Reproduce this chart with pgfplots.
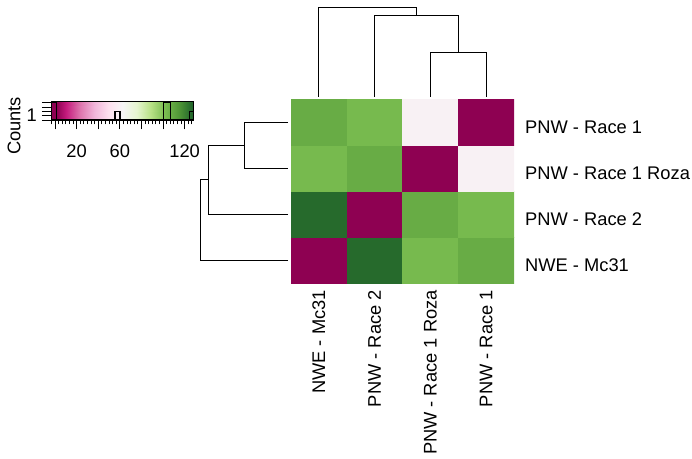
\documentclass[border=0pt]{standalone}
\usepackage{pgfplots}
\pgfplotsset{compat=1.18}
\usepackage{fontspec}
\setmainfont{Liberation Sans}
\newcommand\lab{\fontsize{18.3pt}{22pt}\selectfont}
\pgfplotsset{
 colormap={piyg}{rgb255(0pt)=(142,1,82) rgb255(43pt)=(142,1,82) rgb255(131pt)=(197,27,125) rgb255(263pt)=(222,119,174) rgb255(394pt)=(241,182,218) rgb255(525pt)=(253,224,239) rgb255(657pt)=(246,246,246) rgb255(788pt)=(230,245,208) rgb255(919pt)=(184,225,134) rgb255(1050pt)=(122,188,80) rgb255(1182pt)=(80,150,55) rgb255(1313pt)=(30,98,42)}
}
\begin{document}
\begin{tikzpicture}
\path[use as bounding box] (0,0) rectangle (692pt,458pt);

% heatmap
\begin{axis}[at={(291pt,175pt)}, anchor=south west, width=223pt, height=184pt, scale only axis,
 xmin=-0.5, xmax=3.5, ymin=-0.5, ymax=3.5, enlargelimits=false,
 colormap name=piyg, point meta min=-3.3, point meta max=128,
 axis line style={draw=none}, major tick length=0pt, tick style={draw=none},
 xtick={0,1,2,3}, ytick={0,1,2,3},
 xticklabels={NWE - Mc31, PNW - Race 2, PNW - Race 1 Roza, PNW - Race 1},
 yticklabels={NWE - Mc31, PNW - Race 2, PNW - Race 1 Roza, PNW - Race 1},
 yticklabel pos=right,
 every tick label/.append style={font=\lab, inner sep=0pt},
 xticklabel style={rotate=90, anchor=east},
 xticklabel shift=7pt,
 yticklabel style={anchor=west, yshift=-5.5pt},
 yticklabel shift=11pt]
\addplot[matrix plot*, mesh/cols=4, point meta=explicit] table[meta=c] {
x y c
0 0 0
1 0 126
2 0 102.5
3 0 107.3
0 1 126
1 1 0
2 1 107.3
3 1 102.5
0 2 102.5
1 2 107.3
2 2 0
3 2 59.5
0 3 107.3
1 3 102.5
2 3 59.5
3 3 0
};
\end{axis}

% top dendrogram
\begin{axis}[at={(291pt,361pt)}, anchor=south west, width=223pt, height=97pt, scale only axis,
 xmin=-0.5, xmax=3.5, ymin=0, ymax=125.6, hide axis, clip=false]
\addplot[black, line width=1pt] coordinates {(2,0) (2,57) (3,57) (3,0)};
\addplot[black, line width=1pt] coordinates {(1,0) (1,105) (2.5,105) (2.5,57)};
\addplot[black, line width=1pt] coordinates {(0,0) (0,116.5) (1.75,116.5) (1.75,105)};
\end{axis}

% left dendrogram
\begin{axis}[at={(190pt,175pt)}, anchor=south west, width=98pt, height=184pt, scale only axis,
 xmin=0, xmax=129.8, x dir=reverse, ymin=-0.5, ymax=3.5, hide axis, clip=false]
\addplot[black, line width=1pt] coordinates {(0,3) (57,3) (57,2) (0,2)};
\addplot[black, line width=1pt] coordinates {(0,1) (105,1) (105,2.5) (57,2.5)};
\addplot[black, line width=1pt] coordinates {(0,0) (116.5,0) (116.5,1.75) (105,1.75)};
\end{axis}

% colour key with histogram
\begin{axis}[at={(51.5pt,338pt)}, anchor=south west, width=141.8pt, height=18.3pt, scale only axis,
 xmin=-3.3, xmax=128, ymin=0, ymax=4.2105, axis on top,
 colormap name=piyg, point meta min=-3.3, point meta max=128,
 axis line style={line width=1.2pt},
 xtick={0,20,40,60,80,100,120}, xticklabels={,20,,60,,,120},
 minor xtick={-3.3333,0,...,128},
 ytick={0,1,2,3,4}, yticklabels={,1,,,},
 xtick pos=bottom, ytick pos=left, tick align=outside,
 major tick length=9.5pt, minor tick length=4.5pt,
 tick style={black, line width=0.9pt},
 every tick label/.append style={font=\lab, inner sep=0pt},
 xticklabel shift=15pt, yticklabel shift=5pt]
\addplot[surf, shader=interp, mesh/rows=2, mesh/cols=2, point meta=x] coordinates {(-3.3,0) (128,0) (-3.3,4.2105) (128,4.2105)};
\addplot[const plot, black, line width=1.3pt] coordinates {(-3.3,4) (1.3,0) (55.5,2) (60,0) (100.2,4) (107,0) (124.3,2) (128,2)};
\end{axis}
\node[rotate=90, font=\lab, inner sep=0pt] at (14pt,332pt) {Counts};
\end{tikzpicture}
\end{document}
